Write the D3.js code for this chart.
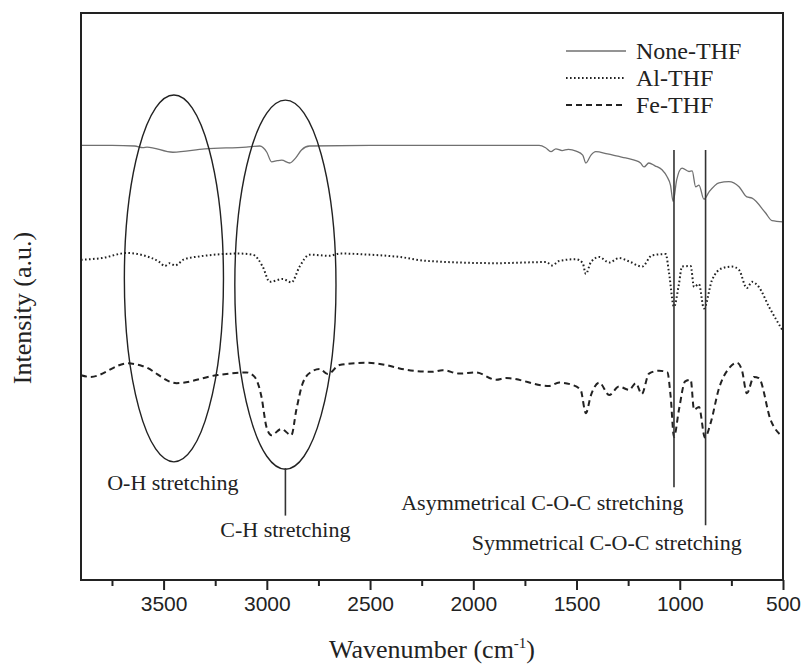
<!DOCTYPE html>
<html>
<head>
<meta charset="utf-8">
<script src="https://cdn.jsdelivr.net/npm/d3@7"></script>
<style>
  body { margin: 0; background: #fff; }
  svg { display: block; }
  .serif { font-family: "Liberation Serif", "Times New Roman", serif; fill: #222; }
  .tick text { font-family: "Liberation Sans", Arial, sans-serif; font-size: 21px; fill: #222; }
</style>
</head>
<body>
<div id="chart"></div>
<script>
// wavenumbers (cm-1) and intensities (a.u.)
var noneWn = [3900, 3750, 3640, 3600, 3580, 3455, 3300, 3100, 3034, 3000, 2977, 2950, 2928, 2889, 2860, 2832, 2793, 2500, 1681, 1650, 1624, 1600, 1570, 1540, 1502, 1470, 1455, 1430, 1407, 1350, 1300, 1262, 1220, 1190, 1173, 1150, 1120, 1086, 1062, 1045, 1032, 1015, 989, 955, 940, 923, 907, 883, 858, 810, 762, 713, 675, 650, 585, 553, 500];
var noneI = [76.6, 76.6, 76.5, 76.2, 76.3, 75.4, 76.0, 76.3, 76.5, 75.4, 73.7, 73.9, 74.0, 73.5, 74.4, 75.8, 76.5, 76.6, 76.6, 76.2, 75.5, 76.0, 75.7, 75.9, 75.6, 74.9, 73.5, 74.9, 75.5, 75.1, 74.7, 74.4, 74.0, 73.5, 72.8, 73.5, 73.0, 72.3, 71.1, 69.6, 66.7, 70.5, 72.6, 72.0, 72.1, 69.3, 69.6, 67.1, 68.4, 70.0, 70.2, 69.3, 67.5, 67.3, 64.7, 63.3, 63.1];

var alWn = [3900, 3800, 3678, 3600, 3520, 3494, 3470, 3445, 3400, 3325, 3131, 3068, 3020, 2986, 2923, 2881, 2841, 2793, 2696, 2648, 2500, 2357, 2227, 1888, 1647, 1618, 1584, 1502, 1470, 1455, 1430, 1390, 1342, 1294, 1245, 1182, 1134, 1068, 1052, 1028, 1005, 989, 947, 931, 907, 883, 844, 795, 747, 713, 675, 650, 617, 568, 500];
var alI = [56.4, 56.7, 57.6, 57.2, 56.0, 55.3, 55.8, 55.4, 56.5, 57.0, 57.5, 57.3, 55.2, 52.5, 53.0, 52.4, 55.2, 57.3, 57.1, 57.5, 57.3, 56.9, 56.2, 55.8, 56.0, 55.4, 56.2, 56.5, 55.8, 53.9, 56.0, 56.9, 55.9, 56.7, 56.1, 55.2, 57.2, 57.4, 54.1, 48.1, 51.9, 55.2, 55.3, 51.6, 52.1, 47.8, 52.8, 54.9, 55.2, 54.6, 51.4, 52.5, 51.6, 48.1, 43.8];

var feWn = [3900, 3855, 3673, 3600, 3437, 3244, 3099, 3059, 3026, 3002, 2978, 2930, 2881, 2857, 2826, 2785, 2744, 2705, 2648, 2519, 2422, 2357, 2198, 2149, 2067, 1987, 1890, 1842, 1632, 1584, 1521, 1480, 1455, 1430, 1390, 1342, 1294, 1245, 1213, 1184, 1149, 1100, 1060, 1044, 1028, 1004, 974, 947, 931, 907, 878, 851, 810, 762, 723, 699, 675, 641, 617, 560, 500];
var feI = [36.0, 35.7, 38.1, 37.6, 34.6, 36.0, 36.5, 35.7, 32.2, 26.9, 25.4, 26.5, 25.4, 29.9, 34.6, 36.6, 37.1, 36.2, 37.8, 38.2, 37.8, 37.2, 36.6, 36.9, 36.3, 36.5, 35.2, 35.5, 34.1, 34.7, 34.3, 33.4, 29.3, 32.5, 34.7, 32.5, 34.0, 33.4, 34.6, 32.7, 36.3, 36.8, 36.5, 32.2, 25.1, 29.9, 34.9, 35.2, 29.9, 30.4, 25.0, 27.5, 33.7, 37.2, 38.2, 36.9, 32.8, 35.7, 35.5, 28.1, 25.1];

var seriesNames = ["None-THF", "Al-THF", "Fe-THF"];
var xTicks = [3500, 3000, 2500, 2000, 1500, 1000, 500];
var xMinorTicks = [3750, 3250, 2750, 2250, 1750, 1250, 750];

var width = 803, height = 669;
var mLeft = 81, mRight = 783, mTop = 13, mBottom = 580;

var svg = d3.select("#chart").append("svg")
    .attr("width", width)
    .attr("height", height);

var x = d3.scaleLinear().domain([3900, 500]).range([mLeft, mRight]);
var y = d3.scaleLinear().domain([0, 100]).range([579, 13]);

var styles = [
    { stroke: "#707070", width: 1.3, dash: null },
    { stroke: "#222", width: 2, dash: "1.6,2.4" },
    { stroke: "#222", width: 2, dash: "6,4" }
];

function zipSeries(wn, vals) {
    return wn.map(function(w, i) { return [w, vals[i]]; });
}
var series = [zipSeries(noneWn, noneI), zipSeries(alWn, alI), zipSeries(feWn, feI)];

var line = d3.line()
    .x(function(d) { return x(d[0]); })
    .y(function(d) { return y(d[1]); })
    .curve(d3.curveMonotoneX);

svg.append("g").selectAll("path")
    .data(series)
    .enter().append("path")
    .attr("d", line)
    .attr("fill", "none")
    .attr("stroke", function(d, i) { return styles[i].stroke; })
    .attr("stroke-width", function(d, i) { return styles[i].width; })
    .attr("stroke-dasharray", function(d, i) { return styles[i].dash; });

// ellipses around O-H and C-H bands
var ellipses = [
    { wn: 3450, rwn: 240, v: 53.1, rv: 32.4 },
    { wn: 2910, rwn: 245, v: 52.0, rv: 32.6 }
];
svg.append("g").selectAll("ellipse")
    .data(ellipses)
    .enter().append("ellipse")
    .attr("cx", function(d) { return x(d.wn); })
    .attr("cy", function(d) { return y(d.v); })
    .attr("rx", function(d) { return x(d.wn - d.rwn) - x(d.wn); })
    .attr("ry", function(d) { return y(d.v - d.rv) - y(d.v); })
    .attr("fill", "none")
    .attr("stroke", "#222")
    .attr("stroke-width", 1.4);

// annotation lines
var marks = [
    { wn: 2910, v0: 19.6, v1: 11.2 },
    { wn: 1028, v0: 75.8, v1: 16.2 },
    { wn: 875, v0: 75.8, v1: 9.5 }
];
svg.append("g").selectAll("line")
    .data(marks)
    .enter().append("line")
    .attr("x1", function(d) { return x(d.wn); })
    .attr("x2", function(d) { return x(d.wn); })
    .attr("y1", function(d) { return y(d.v0); })
    .attr("y2", function(d) { return y(d.v1); })
    .attr("stroke", "#333")
    .attr("stroke-width", 1.6);

var labels = [
    { text: "O-H stretching", wn: 3455, v: 15.7, anchor: "middle" },
    { text: "C-H stretching", wn: 2910, v: 7.4, anchor: "middle" },
    { text: "Asymmetrical C-O-C stretching", wn: 982, v: 12.2, anchor: "end" },
    { text: "Symmetrical C-O-C stretching", wn: 700, v: 5.1, anchor: "end" }
];
svg.append("g").selectAll("text")
    .data(labels)
    .enter().append("text")
    .attr("class", "serif")
    .attr("x", function(d) { return x(d.wn); })
    .attr("y", function(d) { return y(d.v); })
    .attr("text-anchor", function(d) { return d.anchor; })
    .style("font-size", "22px")
    .text(function(d) { return d.text; });

// frame
svg.append("rect")
    .attr("x", mLeft).attr("y", mTop)
    .attr("width", mRight - mLeft).attr("height", mBottom - mTop)
    .attr("fill", "none").attr("stroke", "#222").attr("stroke-width", 2);

// x axis
var xAxis = svg.append("g")
    .attr("transform", "translate(0," + mBottom + ")")
    .call(d3.axisBottom(x).tickValues(xTicks).tickSize(10).tickPadding(6).tickFormat(d3.format("d")));
xAxis.select(".domain").remove();
xAxis.selectAll(".tick line").attr("stroke", "#222").attr("stroke-width", 2);

var xMinor = svg.append("g")
    .attr("transform", "translate(0," + mBottom + ")")
    .call(d3.axisBottom(x).tickValues(xMinorTicks).tickSize(6).tickFormat(""));
xMinor.select(".domain").remove();
xMinor.selectAll(".tick line").attr("stroke", "#222").attr("stroke-width", 2);

// axis titles
var xt = svg.append("text")
    .attr("class", "serif")
    .attr("x", (mLeft + mRight) / 2)
    .attr("y", 658)
    .attr("text-anchor", "middle")
    .style("font-size", "26px");
xt.append("tspan").text("Wavenumber (cm");
xt.append("tspan").attr("dy", -10).style("font-size", "15px").text("-1");
xt.append("tspan").attr("dy", 10).text(")");

svg.append("text")
    .attr("class", "serif")
    .attr("transform", "translate(31,308) rotate(-90)")
    .attr("text-anchor", "middle")
    .style("font-size", "26px")
    .text("Intensity (a.u.)");

// legend
var legend = svg.append("g").selectAll("g")
    .data(seriesNames)
    .enter().append("g")
    .attr("transform", function(d, i) { return "translate(566," + (51 + i * 27) + ")"; });
legend.append("line")
    .attr("x1", 0).attr("x2", 60)
    .attr("stroke", function(d, i) { return styles[i].stroke; })
    .attr("stroke-width", function(d, i) { return styles[i].width; })
    .attr("stroke-dasharray", function(d, i) { return styles[i].dash; });
legend.append("text")
    .attr("class", "serif")
    .attr("x", 70)
    .attr("y", 8)
    .style("font-size", "24px")
    .text(function(d) { return d; });
</script>
</body>
</html>
